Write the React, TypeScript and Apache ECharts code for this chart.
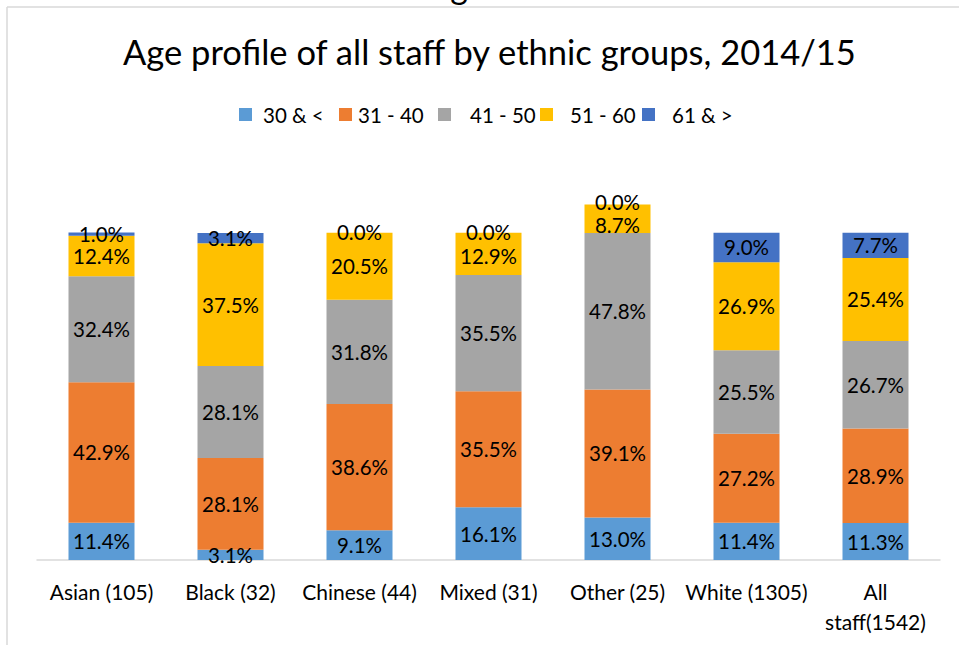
import React, { useEffect, useRef } from "react";
import * as echarts from "echarts";

const categories = ["Asian (105)", "Black (32)", "Chinese (44)", "Mixed (31)", "Other (25)", "White (1305)", "All staff(1542)"];
const seriesNames = ["30 & <", "31 - 40", "41 - 50", "51 - 60", "61 & >"];
const age30Under = [11.4, 3.1, 9.1, 16.1, 13.0, 11.4, 11.3];
const age31to40 = [42.9, 28.1, 38.6, 35.5, 39.1, 27.2, 28.9];
const age41to50 = [32.4, 28.1, 31.8, 35.5, 47.8, 25.5, 26.7];
const age51to60 = [12.4, 37.5, 20.5, 12.9, 8.7, 26.9, 25.4];
const age61Over = [1.0, 3.1, 0.0, 0.0, 0.0, 9.0, 7.7];
const colors = ["#5B9BD5", "#ED7D31", "#A5A5A5", "#FFC000", "#4472C4"];
const titleText = "Age profile of all staff by ethnic groups, 2014/15";

const FONT = "Lato, 'Open Sans', sans-serif";

export default function App() {
  const ref = useRef<HTMLDivElement>(null);
  useEffect(() => {
    document.body.style.margin = "0";
    if (!ref.current) return;
    const chart = echarts.init(ref.current, null, { renderer: "svg" });
    const values = [age30Under, age31to40, age41to50, age51to60, age61Over];
    const legendX = [234, 334, 433, 535, 637];
    const legendGap = [11, 6, 19, 17, 17];
    // label nudges (series index - category index -> [dx, dy]) to avoid overlaps, as in the original
    const nudges: Record<string, number[]> = {
      "3-4": [0, 6],
      "4-4": [0, -3],
      "3-3": [0, 2],
      "4-3": [0, -1],
      "4-2": [0, -1],
    };
    chart.setOption({
      animation: false,
      textStyle: { fontFamily: FONT },
      title: {
        text: titleText,
        left: 118,
        top: 29,
        textStyle: { fontFamily: FONT, fontSize: 34.5, fontWeight: "normal", color: "#000" },
      },
      legend: seriesNames.map((n, i) => ({
        data: [n],
        left: legendX[i],
        top: 99,
        itemWidth: 13,
        itemHeight: 13,
        icon: "rect",
        textStyle: { fontFamily: FONT, fontSize: 20.5, color: "#000", padding: [0, 0, 0, legendGap[i] - 5] },
      })),
      grid: { left: 37, right: 19, top: 200, bottom: 85, containLabel: false },
      xAxis: {
        type: "category",
        data: categories,
        axisLine: { lineStyle: { color: "#D9D9D9", width: 1.5 } },
        axisTick: { show: false },
        axisLabel: {
          fontFamily: FONT,
          fontSize: 21,
          color: "#000",
          margin: 16,
          lineHeight: 30,
          interval: 0,
          formatter: (v: string) => (v === "All staff(1542)" ? "All\nstaff(1542)" : v),
        },
      },
      yAxis: { type: "value", min: 0, max: 110, show: false, splitLine: { show: false } },
      series: seriesNames.map((n, i) => ({
        name: n,
        type: "bar",
        stack: "total",
        barWidth: 66,
        data: values[i].map((v, j) => {
          const nd = nudges[i + "-" + j];
          return nd ? { value: v, label: { offset: nd } } : v;
        }),
        itemStyle: { color: colors[i] },
        label: {
          show: true,
          position: "inside",
          fontFamily: FONT,
          fontSize: 20.5,
          color: "#000",
          formatter: (p: any) => Number(p.value).toFixed(1) + "%",
        },
      })),
      graphic: [
        { type: "line", shape: { x1: 7, y1: 7, x2: 959, y2: 7 }, style: { stroke: "#D9D9D9", lineWidth: 1.5 } },
        { type: "line", shape: { x1: 7, y1: 7, x2: 7, y2: 645 }, style: { stroke: "#D9D9D9", lineWidth: 1.5 } },
        {
          type: "text",
          x: 484,
          y: 2,
          style: { text: "Figure 8", font: "34px " + FONT, fill: "#000", textAlign: "center", textVerticalAlign: "bottom" },
        },
      ],
    });
    return () => chart.dispose();
  }, []);
  return <div ref={ref} style={{ width: 959, height: 645 }} />;
}
